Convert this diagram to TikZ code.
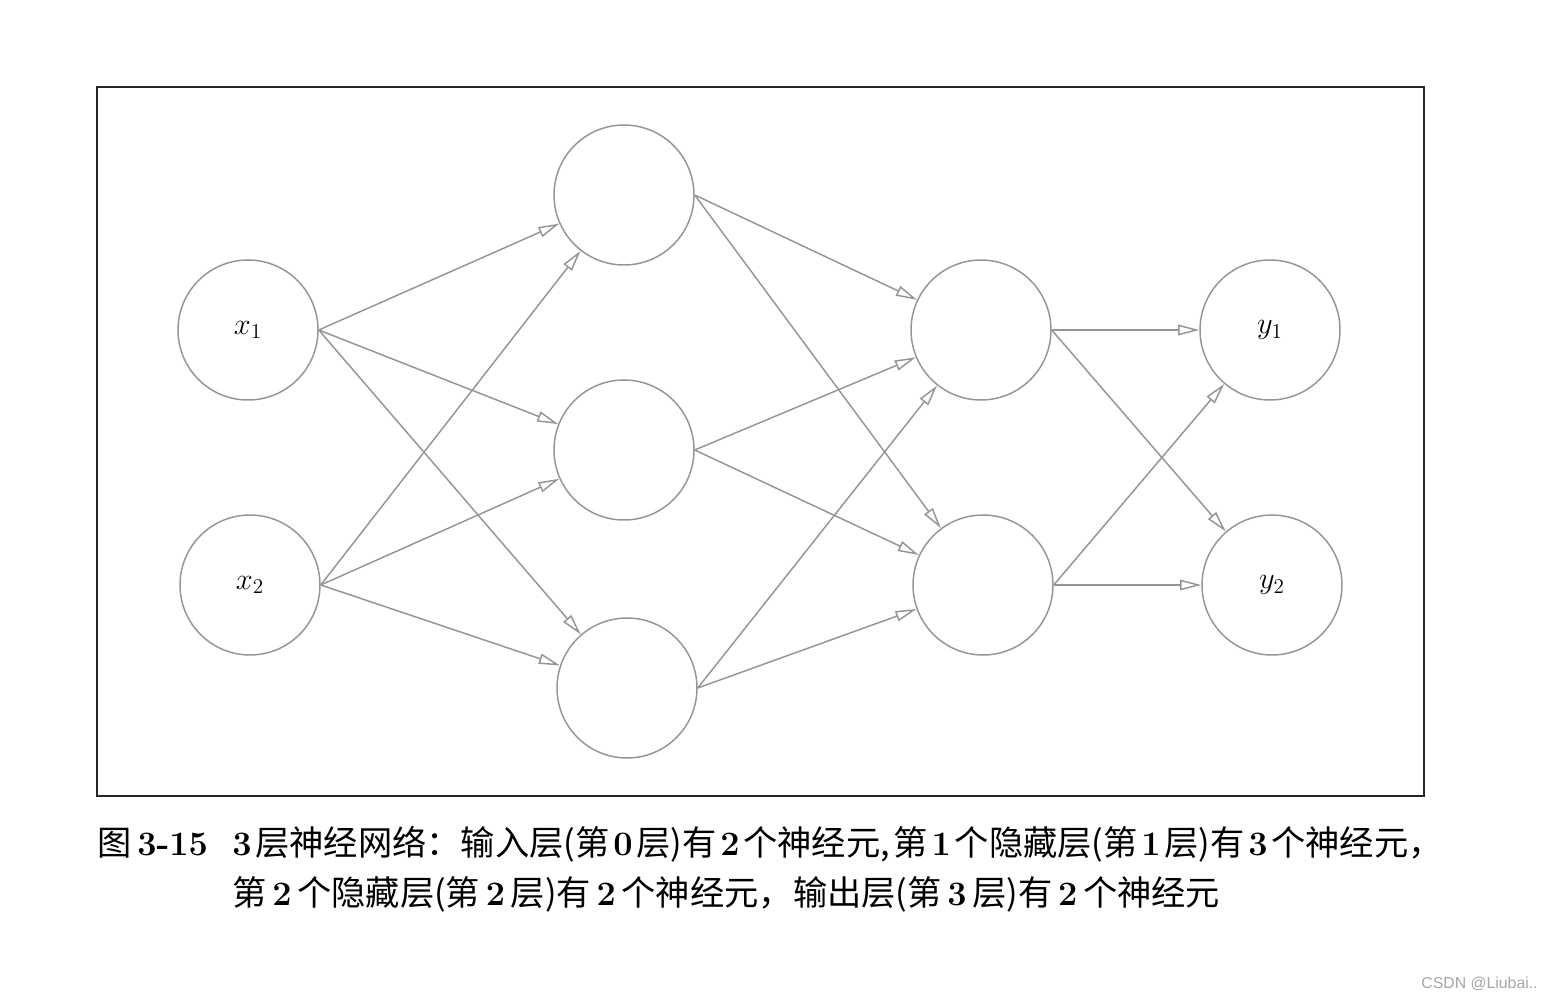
\documentclass[tikz,border=0pt]{standalone}
\usepackage{fontspec}
\newfontfamily\cjk{Noto Sans CJK SC}
\newfontfamily\wmfont{Liberation Sans}
\usetikzlibrary{arrows.meta}
\definecolor{edgegray}{RGB}{150,150,150}
\newcommand\dg[1]{{\normalfont\bfseries #1}}
\newcommand\zgap{\hspace{0.11em}}

\begin{document}
\begin{tikzpicture}[x=0.02cm, y=-0.02cm,
    neuron/.style={draw=edgegray, circle, line width=0.85pt, minimum size=2.8cm, inner sep=0pt, font=\LARGE},
    conn/.style={draw=edgegray, line width=0.85pt, -{Triangle[open, length=12pt, width=6pt]}},
    caption/.style={anchor=base west, inner sep=0pt, font=\fontsize{19.5}{24}\selectfont\cjk}]
    \useasboundingbox (0,0) rectangle (1552,1000);
    \draw[black!85, line width=0.7pt] (97,87) rectangle (1424,796);

    % input layer
    \node[neuron] (x1) at (248,330) {$x_{1}$};
    \node[neuron] (x2) at (250,585) {$x_{2}$};
    % first hidden layer
    \node[neuron] (h1) at (624,195) {};
    \node[neuron] (h2) at (624,450) {};
    \node[neuron] (h3) at (627,688) {};
    % second hidden layer
    \node[neuron] (s1) at (981,330) {};
    \node[neuron] (s2) at (983,585) {};
    % output layer
    \node[neuron] (y1) at (1270,330) {$y_{1}$};
    \node[neuron] (y2) at (1272,585) {$y_{2}$};

    \draw[conn] (x1.east) -- (h1);
    \draw[conn] (x1.east) -- (h2);
    \draw[conn] (x1.east) -- (h3);
    \draw[conn] (x2.east) -- (h1);
    \draw[conn] (x2.east) -- (h2);
    \draw[conn] (x2.east) -- (h3);

    \draw[conn] (h1.east) -- (s1);
    \draw[conn] (h1.east) -- (s2);
    \draw[conn] (h2.east) -- (s1);
    \draw[conn] (h2.east) -- (s2);
    \draw[conn] (h3.east) -- (s1);
    \draw[conn] (h3.east) -- (s2);

    \draw[conn] (s1.east) -- (y1);
    \draw[conn] (s1.east) -- (y2);
    \draw[conn] (s2.east) -- (y1);
    \draw[conn] (s2.east) -- (y2);

    % caption
    \node[caption] (fig) at (97,855) {图\,\dg{3-15}};
    \node[caption] (cap1) at (232,855) {\dg{3}\zgap 层神经网络：输入层(第\zgap\dg{0}\zgap 层)有\zgap\dg{2}\zgap 个神经元,\zgap 第\zgap\dg{1}\zgap 个隐藏层(第\zgap\dg{1}\zgap 层)有\zgap\dg{3}\zgap 个神经元，};
    \node[caption] (cap2) at (232,905) {第\,\dg{2}\,个隐藏层(第\,\dg{2}\,层)有\,\dg{2}\,个神经元，输出层(第\,\dg{3}\,层)有\,\dg{2}\,个神经元};

    \node[anchor=base east, inner sep=0pt, font=\wmfont\fontsize{9}{10}\selectfont, text=gray!70] (mark) at (1538,988) {CSDN @Liubai..};
\end{tikzpicture}
\end{document}
